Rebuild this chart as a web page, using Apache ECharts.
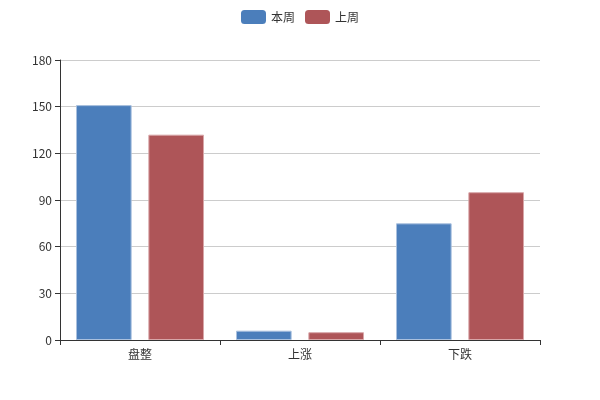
<!DOCTYPE html>
<html><head><meta charset="utf-8">
<script src="https://cdn.jsdelivr.net/npm/echarts@6/dist/echarts.min.js"></script>
<style>html,body{margin:0;padding:0;background:#fff}#c{width:600px;height:400px}</style>
</head><body><div id="c"></div>
<script>
var categories = ['盘整', '上涨', '下跌'];
var thisWeek = [151, 6, 75];
var lastWeek = [132, 5, 95];
var seriesNames = ['本周', '上周'];

var chart = echarts.init(document.getElementById('c'));
chart.setOption({
  animation: false,
  textStyle: { fontFamily: '"Noto Sans CJK SC", "Microsoft YaHei", sans-serif' },
  legend: {
    top: 5, left: 'center', itemWidth: 25, itemHeight: 14, itemGap: 10,
    itemStyle: { borderWidth: 0 },
    textStyle: { fontSize: 12, color: '#333' },
    data: seriesNames
  },
  grid: { left: 60, right: 60, top: 60, bottom: 60 },
  xAxis: {
    type: 'category', data: categories,
    axisLine: { lineStyle: { color: '#333' } },
    axisTick: { show: true, alignWithLabel: false, length: 5, lineStyle: { color: '#333' } },
    axisLabel: { color: '#333', fontSize: 12 }
  },
  yAxis: {
    type: 'value', min: 0, max: 180, interval: 30,
    axisLine: { show: true, lineStyle: { color: '#333' } },
    axisTick: { show: true, length: 5, lineStyle: { color: '#333' } },
    axisLabel: { color: '#333', fontSize: 12 },
    splitLine: { lineStyle: { color: '#ccc' } }
  },
  series: [
    { name: seriesNames[0], type: 'bar', data: thisWeek, barGap: '30%', barCategoryGap: '20%',
      itemStyle: { color: '#4b7ebb', borderColor: '#a9c0de', borderWidth: 1 } },
    { name: seriesNames[1], type: 'bar', data: lastWeek,
      itemStyle: { color: '#ae5558', borderColor: '#d8a6a8', borderWidth: 1 } }
  ]
});
</script></body></html>
